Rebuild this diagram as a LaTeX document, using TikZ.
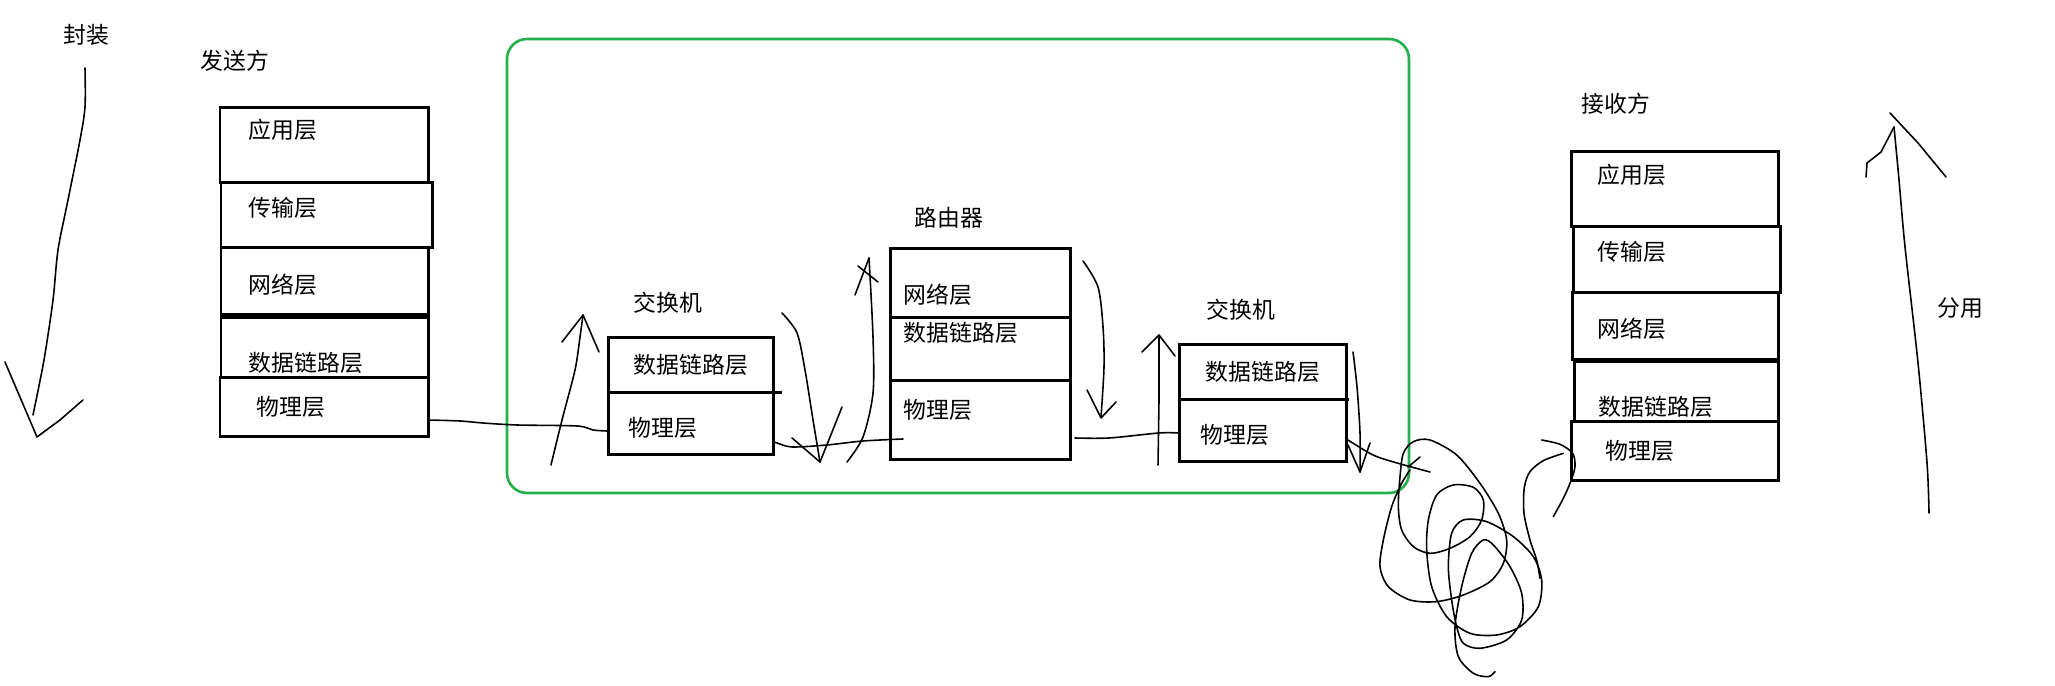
\documentclass[tikz,border=0pt]{standalone}
\usepackage{fontspec}
\setmainfont{Noto Sans CJK SC}
\definecolor{paintgreen}{RGB}{34,177,76}
\begin{document}
\begin{tikzpicture}[
    x=0.01cm,
    y=-0.01cm,
    font=\fontsize{6.5pt}{7pt}\selectfont,
    layer/.style={draw=black, line width=0.85pt},
    lbl/.style={anchor=west, inner sep=0pt},
    pen/.style={draw=black, line width=0.45pt, line cap=round, line join=round},
    frame/.style={draw=paintgreen, line width=0.75pt, rounded corners=0.2cm}
]
\path[use as bounding box] (0,0) rectangle (2055,686);

% Sender stack (five layers).
\draw[layer] (220,108) rectangle (428,183);
\draw[layer] (221,183) rectangle (432,248);
\draw[layer] (221,248) rectangle (428,315);
\draw[layer] (221,318) rectangle (428,378);
\draw[layer] (220,378) rectangle (428,437);
\foreach \x/\y/\t [count=\i] in {
    248/130/应用层, 248/208/传输层, 248/285/网络层,
    248/363/数据链路层, 256/407/物理层
} {
    \node[lbl] (snd\i) at (\x,\y) {\t};
}
\node[lbl] (sender) at (200,61) {发送方};
\node[lbl] (encap) at (63,35) {封装};

% Receiver stack.
\draw[layer] (1571,152) rectangle (1778,227);
\draw[layer] (1573,227) rectangle (1780,293);
\draw[layer] (1572,293) rectangle (1778,360);
\draw[layer] (1574,362) rectangle (1778,422);
\draw[layer] (1571,422) rectangle (1778,481);
\foreach \x/\y/\t [count=\i] in {
    1597/175/应用层, 1597/252/传输层, 1597/329/网络层,
    1598/407/数据链路层, 1605/451/物理层
} {
    \node[lbl] (rcv\i) at (\x,\y) {\t};
}
\node[lbl] (receiver) at (1581,104) {接收方};
\node[lbl] (demux) at (1937,308) {分用};

% Middle devices inside the green frame.
\draw[frame] (507,39) rectangle (1409,493);

\draw[layer] (608,338) rectangle (773,393);
\draw[layer] (608,393) rectangle (773,455);
\draw[layer] (773,393) -- (782,393);
\node[lbl] (swA) at (633,303) {交换机};
\node[lbl] (swA1) at (633,365) {数据链路层};
\node[lbl] (swA2) at (628,428) {物理层};

\draw[layer] (890,249) rectangle (1070,318);
\draw[layer] (890,318) rectangle (1070,381);
\draw[layer] (890,381) rectangle (1070,460);
\node[lbl] (rt) at (914,218) {路由器};
\node[lbl] (rt1) at (903,295) {网络层};
\node[lbl] (rt2) at (903,333) {数据链路层};
\node[lbl] (rt3) at (903,410) {物理层};

\draw[layer] (1179,345) rectangle (1346,400);
\draw[layer] (1179,400) rectangle (1346,462);
\draw[layer] (1346,400) -- (1349,400);
\node[lbl] (swB) at (1206,310) {交换机};
\node[lbl] (swB1) at (1205,372) {数据链路层};
\node[lbl] (swB2) at (1200,435) {物理层};

% Encapsulation arrow (down) and demux arrow (up).
\draw[pen] plot[smooth] coordinates {(85,68) (85,107) (80,140) (68,200) (58,250) (53,300) (44,360) (33,415)};
\draw[pen] (5,362) -- (37,437) -- (60,420) -- (83,400);
\draw[pen] plot[smooth] coordinates {(1929,513) (1927,463) (1918,363) (1905,247) (1899,180) (1894,127)};
\draw[pen] (1866,177) -- (1867,163) -- (1881,152) -- (1894,127);
\draw[pen] (1890,113) -- (1918,143) -- (1946,177);

% Physical links between the devices.
\draw[pen] plot[smooth] coordinates {(428,420) (460,421) (483,423) (517,425) (577,426) (593,430) (607,431)};
\draw[pen] plot[smooth] coordinates {(773,442) (777,443) (792,447) (827,445) (863,441) (903,439)};
\draw[pen] plot[smooth] coordinates {(1075,438) (1109,438) (1159,433) (1178,433)};
\draw[pen] plot[smooth] coordinates {(1348,440) (1373,455) (1397,463) (1430,472)};
\draw[pen] (1408,467) -- (1420,457);

% Up/down strokes at each device.
\draw[pen] plot[smooth] coordinates {(551,465) (562,420) (575,370) (580,337) (583,315)};
\draw[pen] (562,342) -- (583,315) -- (599,352);
\draw[pen] plot[smooth] coordinates {(782,313) (797,333) (805,370) (813,420) (820,462)};
\draw[pen] (792,438) -- (820,462) -- (842,407);
\draw[pen] plot[smooth] coordinates {(847,462) (863,437) (873,393) (873,337) (869,258)};
\draw[pen] (855,295) -- (869,258);
\draw[pen] (858,266) -- (878,282);
\draw[pen] plot[smooth] coordinates {(1083,261) (1098,287) (1103,327) (1104,367) (1101,417)};
\draw[pen] (1087,390) -- (1101,418) -- (1116,402);
\draw[pen] (1158,465) -- (1159,400) -- (1159,337);
\draw[pen] (1142,352) -- (1159,335) -- (1175,356);
\draw[pen] plot[smooth] coordinates {(1353,352) (1357,387) (1360,433) (1360,472)};
\draw[pen] (1348,445) -- (1360,472) -- (1370,443);

% Tangled cable to the receiver.
\begin{scope}[shift={(1330,400)}, scale=0.3333]
\draw[pen] plot[smooth] coordinates {
    (240,210) (215,250) (185,320) (160,420) (150,500) (175,560) (240,600)
    (320,605) (400,585) (480,545) (520,490) (530,420) (505,340) (450,250)
    (380,165) (300,120) (250,125) (220,160) (210,230) (205,320) (215,390)
    (250,440) (300,460) (360,445) (420,410) (455,360) (460,300) (430,262)
    (370,255) (320,285) (295,360) (290,450) (305,560) (350,650) (420,700)
    (500,705) (570,680) (625,620) (635,540) (610,470) (550,410) (470,365)
    (400,360) (365,400) (355,500) (365,600) (380,680) (400,730) (450,745)
    (530,720) (575,660) (575,580) (540,500) (490,435) (460,420) (425,460)
    (395,560) (375,680) (385,770) (430,820) (475,830) (495,815)};
\draw[pen] plot[smooth] coordinates {(635,120) (690,133) (728,160) (735,200) (722,245) (700,295) (670,350)};
\draw[pen] plot[smooth] coordinates {(700,160) (640,182) (600,215) (583,262) (582,340) (600,420) (620,480) (630,535)};
\end{scope}
\end{tikzpicture}
\end{document}
